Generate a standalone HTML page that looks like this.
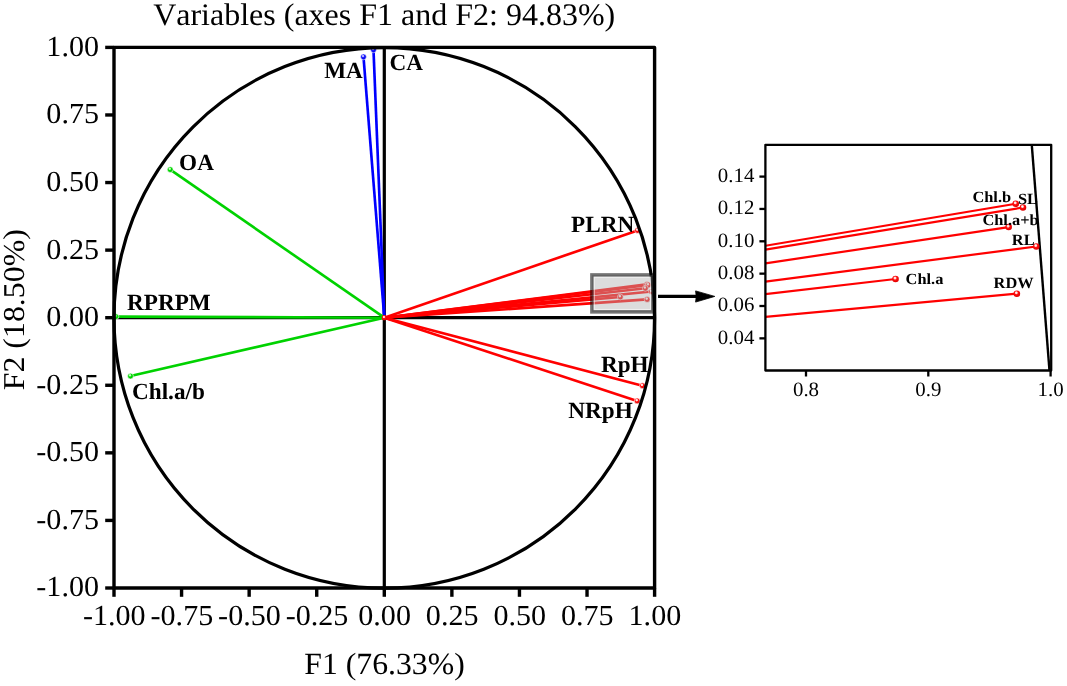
<!DOCTYPE html><html><head><meta charset="utf-8"><style>html,body{margin:0;padding:0;background:#fff;}svg{display:block;will-change:transform;}text{font-family:"Liberation Serif",serif;fill:#000;font-kerning:none;text-rendering:geometricPrecision;}</style></head><body>
<svg width="1067" height="686" viewBox="0 0 1067 686">
<defs><radialGradient id="gR" cx="0.42" cy="0.36" r="0.62"><stop offset="0" stop-color="#ffffff"/><stop offset="0.22" stop-color="#ffd8d8"/><stop offset="0.45" stop-color="#ff1010"/><stop offset="1" stop-color="#e00000"/></radialGradient><radialGradient id="gG" cx="0.42" cy="0.36" r="0.62"><stop offset="0" stop-color="#e8ffe8"/><stop offset="0.22" stop-color="#a8f8a8"/><stop offset="0.45" stop-color="#00dc00"/><stop offset="1" stop-color="#00c000"/></radialGradient><radialGradient id="gB" cx="0.42" cy="0.36" r="0.62"><stop offset="0" stop-color="#e8e8ff"/><stop offset="0.22" stop-color="#a8a8ff"/><stop offset="0.45" stop-color="#1010ff"/><stop offset="1" stop-color="#0000e0"/></radialGradient><clipPath id="ic"><rect x="765.4" y="144.8" width="285.8" height="225.7"/></clipPath></defs>
<text transform="translate(384.20,25.00) scale(1,0.98)" font-size="32.0" text-anchor="middle">Variables (axes F1 and F2: 94.83%)</text>
<line x1="114.00" y1="588.00" x2="114.00" y2="596.80" stroke="#000" stroke-width="3.4"/>
<line x1="105.20" y1="588.00" x2="114.00" y2="588.00" stroke="#000" stroke-width="3.4"/>
<text transform="translate(114.30,625.10) scale(1,0.965)" font-size="30.1" text-anchor="middle">-1.00</text>
<text transform="translate(99.00,596.40) scale(1,0.965)" font-size="30.1" text-anchor="end">-1.00</text>
<line x1="181.57" y1="588.00" x2="181.57" y2="596.80" stroke="#000" stroke-width="3.4"/>
<line x1="105.20" y1="520.42" x2="114.00" y2="520.42" stroke="#000" stroke-width="3.4"/>
<text transform="translate(181.88,625.10) scale(1,0.965)" font-size="30.1" text-anchor="middle">-0.75</text>
<text transform="translate(99.00,528.82) scale(1,0.965)" font-size="30.1" text-anchor="end">-0.75</text>
<line x1="249.15" y1="588.00" x2="249.15" y2="596.80" stroke="#000" stroke-width="3.4"/>
<line x1="105.20" y1="452.85" x2="114.00" y2="452.85" stroke="#000" stroke-width="3.4"/>
<text transform="translate(249.45,625.10) scale(1,0.965)" font-size="30.1" text-anchor="middle">-0.50</text>
<text transform="translate(99.00,461.25) scale(1,0.965)" font-size="30.1" text-anchor="end">-0.50</text>
<line x1="316.73" y1="588.00" x2="316.73" y2="596.80" stroke="#000" stroke-width="3.4"/>
<line x1="105.20" y1="385.27" x2="114.00" y2="385.27" stroke="#000" stroke-width="3.4"/>
<text transform="translate(317.03,625.10) scale(1,0.965)" font-size="30.1" text-anchor="middle">-0.25</text>
<text transform="translate(99.00,393.67) scale(1,0.965)" font-size="30.1" text-anchor="end">-0.25</text>
<line x1="384.30" y1="588.00" x2="384.30" y2="596.80" stroke="#000" stroke-width="3.4"/>
<line x1="105.20" y1="317.70" x2="114.00" y2="317.70" stroke="#000" stroke-width="3.4"/>
<text transform="translate(384.60,625.10) scale(1,0.965)" font-size="30.1" text-anchor="middle">0.00</text>
<text transform="translate(99.00,326.10) scale(1,0.965)" font-size="30.1" text-anchor="end">0.00</text>
<line x1="451.88" y1="588.00" x2="451.88" y2="596.80" stroke="#000" stroke-width="3.4"/>
<line x1="105.20" y1="250.12" x2="114.00" y2="250.12" stroke="#000" stroke-width="3.4"/>
<text transform="translate(452.18,625.10) scale(1,0.965)" font-size="30.1" text-anchor="middle">0.25</text>
<text transform="translate(99.00,258.52) scale(1,0.965)" font-size="30.1" text-anchor="end">0.25</text>
<line x1="519.45" y1="588.00" x2="519.45" y2="596.80" stroke="#000" stroke-width="3.4"/>
<line x1="105.20" y1="182.55" x2="114.00" y2="182.55" stroke="#000" stroke-width="3.4"/>
<text transform="translate(519.75,625.10) scale(1,0.965)" font-size="30.1" text-anchor="middle">0.50</text>
<text transform="translate(99.00,190.95) scale(1,0.965)" font-size="30.1" text-anchor="end">0.50</text>
<line x1="587.03" y1="588.00" x2="587.03" y2="596.80" stroke="#000" stroke-width="3.4"/>
<line x1="105.20" y1="114.97" x2="114.00" y2="114.97" stroke="#000" stroke-width="3.4"/>
<text transform="translate(587.33,625.10) scale(1,0.965)" font-size="30.1" text-anchor="middle">0.75</text>
<text transform="translate(99.00,123.37) scale(1,0.965)" font-size="30.1" text-anchor="end">0.75</text>
<line x1="654.60" y1="588.00" x2="654.60" y2="596.80" stroke="#000" stroke-width="3.4"/>
<line x1="105.20" y1="47.40" x2="114.00" y2="47.40" stroke="#000" stroke-width="3.4"/>
<text transform="translate(654.90,625.10) scale(1,0.965)" font-size="30.1" text-anchor="middle">1.00</text>
<text transform="translate(99.00,55.80) scale(1,0.965)" font-size="30.1" text-anchor="end">1.00</text>
<text transform="translate(384.50,674.30) scale(1,0.97)" font-size="31.75" text-anchor="middle">F1 (76.33%)</text>
<text transform="translate(24.30,309.70) rotate(-90) scale(1,0.95)" font-size="31.9" text-anchor="middle">F2 (18.50%)</text>
<line x1="114.00" y1="317.70" x2="654.60" y2="317.70" stroke="#000" stroke-width="3.3"/>
<line x1="384.30" y1="47.40" x2="384.30" y2="588.00" stroke="#000" stroke-width="3.2"/>
<line x1="384.30" y1="317.70" x2="373.49" y2="49.83" stroke="#0000ff" stroke-width="2.65"/>
<line x1="384.30" y1="317.70" x2="363.49" y2="56.86" stroke="#0000ff" stroke-width="2.65"/>
<line x1="384.30" y1="317.70" x2="170.22" y2="169.58" stroke="#00d200" stroke-width="2.65"/>
<line x1="384.30" y1="317.70" x2="115.89" y2="316.62" stroke="#00d200" stroke-width="2.65"/>
<line x1="384.30" y1="317.70" x2="130.49" y2="376.08" stroke="#00d200" stroke-width="2.65"/>
<line x1="384.30" y1="317.70" x2="637.57" y2="230.39" stroke="#ff0000" stroke-width="2.65"/>
<line x1="384.30" y1="317.70" x2="642.44" y2="385.68" stroke="#ff0000" stroke-width="2.65"/>
<line x1="384.30" y1="317.70" x2="637.17" y2="400.95" stroke="#ff0000" stroke-width="2.65"/>
<line x1="384.30" y1="317.70" x2="646.90" y2="284.40" stroke="#ff0000" stroke-width="2.65"/>
<line x1="384.30" y1="317.70" x2="648.49" y2="285.02" stroke="#ff0000" stroke-width="2.65"/>
<line x1="384.30" y1="317.70" x2="645.33" y2="288.29" stroke="#ff0000" stroke-width="2.65"/>
<line x1="384.30" y1="317.70" x2="651.44" y2="291.53" stroke="#ff0000" stroke-width="2.65"/>
<line x1="384.30" y1="317.70" x2="620.33" y2="296.97" stroke="#ff0000" stroke-width="2.65"/>
<line x1="384.30" y1="317.70" x2="647.14" y2="299.43" stroke="#ff0000" stroke-width="2.65"/>
<circle cx="373.49" cy="49.83" r="2.9" fill="url(#gB)" stroke="#fff" stroke-width="0.6"/>
<circle cx="363.49" cy="56.86" r="2.9" fill="url(#gB)" stroke="#fff" stroke-width="0.6"/>
<circle cx="170.22" cy="169.58" r="2.9" fill="url(#gG)" stroke="#fff" stroke-width="0.6"/>
<circle cx="115.89" cy="316.62" r="2.9" fill="url(#gG)" stroke="#fff" stroke-width="0.6"/>
<circle cx="130.49" cy="376.08" r="2.9" fill="url(#gG)" stroke="#fff" stroke-width="0.6"/>
<circle cx="637.57" cy="230.39" r="2.9" fill="url(#gR)" stroke="#fff" stroke-width="0.6"/>
<circle cx="642.44" cy="385.68" r="2.9" fill="url(#gR)" stroke="#fff" stroke-width="0.6"/>
<circle cx="637.17" cy="400.95" r="2.9" fill="url(#gR)" stroke="#fff" stroke-width="0.6"/>
<circle cx="646.90" cy="284.40" r="2.9" fill="url(#gR)" stroke="#fff" stroke-width="0.6"/>
<circle cx="648.49" cy="285.02" r="2.9" fill="url(#gR)" stroke="#fff" stroke-width="0.6"/>
<circle cx="645.33" cy="288.29" r="2.9" fill="url(#gR)" stroke="#fff" stroke-width="0.6"/>
<circle cx="651.44" cy="291.53" r="2.9" fill="url(#gR)" stroke="#fff" stroke-width="0.6"/>
<circle cx="620.33" cy="296.97" r="2.9" fill="url(#gR)" stroke="#fff" stroke-width="0.6"/>
<circle cx="647.14" cy="299.43" r="2.9" fill="url(#gR)" stroke="#fff" stroke-width="0.6"/>
<circle cx="384.30" cy="317.70" r="2.6" fill="url(#gR)"/>
<text transform="translate(324.20,78.30) scale(1,1.0)" font-size="23.2" font-weight="bold">MA</text>
<text transform="translate(389.60,70.20) scale(1,1.0)" font-size="23.2" font-weight="bold">CA</text>
<text transform="translate(179.10,169.70) scale(1,1.0)" font-size="23.2" font-weight="bold">OA</text>
<text transform="translate(127.00,309.90) scale(1,1.0)" font-size="23.2" font-weight="bold">RPRPM</text>
<text transform="translate(132.00,399.30) scale(1,1.0)" font-size="23.2" font-weight="bold">Chl.a/b</text>
<text transform="translate(571.10,231.80) scale(1,1.0)" font-size="23.2" font-weight="bold">PLRN</text>
<text transform="translate(600.90,371.80) scale(1,1.0)" font-size="23.2" font-weight="bold">RpH</text>
<text transform="translate(568.30,418.30) scale(1,1.0)" font-size="23.2" font-weight="bold">NRpH</text>
<circle cx="384.30" cy="317.90" r="270.30" fill="none" stroke="#000" stroke-width="3.2"/>
<rect x="114.00" y="47.40" width="540.60" height="540.60" fill="none" stroke="#000" stroke-width="3.4" stroke-linejoin="round"/>
<rect x="591.9" y="274.9" width="61" height="37" fill="rgba(178,178,178,0.45)" stroke="rgba(0,0,0,0.54)" stroke-width="3.5"/>
<rect x="594.3" y="277.3" width="56.2" height="32.2" fill="none" stroke="rgba(255,255,255,0.55)" stroke-width="1.1"/>
<line x1="658" y1="296.4" x2="697" y2="296.4" stroke="#000" stroke-width="3.2"/>
<path d="M714.8,296.4 L695.6,290.9 Q696.8,296.4 695.6,302.1 Z" fill="#000" stroke="#000" stroke-width="0.8" stroke-linejoin="round"/>
<g clip-path="url(#ic)">
<line x1="765.40" y1="245.76" x2="1015.74" y2="203.77" stroke="#ff0000" stroke-width="2.2"/>
<line x1="765.40" y1="249.63" x2="1022.96" y2="207.49" stroke="#ff0000" stroke-width="2.2"/>
<line x1="765.40" y1="263.31" x2="1008.65" y2="227.07" stroke="#ff0000" stroke-width="2.2"/>
<line x1="765.40" y1="281.57" x2="1036.29" y2="246.48" stroke="#ff0000" stroke-width="2.2"/>
<line x1="765.40" y1="294.10" x2="895.52" y2="278.99" stroke="#ff0000" stroke-width="2.2"/>
<line x1="765.40" y1="316.83" x2="1016.85" y2="293.71" stroke="#ff0000" stroke-width="2.2"/>
<line x1="1031.4" y1="140" x2="1049.6" y2="372" stroke="#000" stroke-width="2.4"/>
</g>
<circle cx="1015.74" cy="203.77" r="3.3" fill="url(#gR)"/>
<circle cx="1022.96" cy="207.49" r="3.3" fill="url(#gR)"/>
<circle cx="1008.65" cy="227.07" r="3.3" fill="url(#gR)"/>
<circle cx="1036.29" cy="246.48" r="3.3" fill="url(#gR)"/>
<circle cx="895.52" cy="278.99" r="3.3" fill="url(#gR)"/>
<circle cx="1016.85" cy="293.71" r="3.3" fill="url(#gR)"/>
<text transform="translate(972.40,201.90) scale(1,0.95)" font-size="16.4" font-weight="bold">Chl.b</text>
<text transform="translate(1018.00,204.10) scale(1,0.95)" font-size="16.4" font-weight="bold">SL</text>
<text transform="translate(982.40,225.00) scale(1,0.95)" font-size="16.4" font-weight="bold">Chl.a+b</text>
<text transform="translate(1011.80,244.90) scale(1,0.95)" font-size="16.4" font-weight="bold">RL</text>
<text transform="translate(993.60,288.20) scale(1,0.95)" font-size="16.4" font-weight="bold">RDW</text>
<text transform="translate(905.60,283.70) scale(1,0.95)" font-size="16.4" font-weight="bold">Chl.a</text>
<rect x="765.4" y="144.8" width="285.8" height="225.7" fill="none" stroke="#000" stroke-width="2.3" stroke-linejoin="round"/>
<line x1="759.4" y1="338.35" x2="765.4" y2="338.35" stroke="#000" stroke-width="2.3"/>
<text transform="translate(754.40,343.55) scale(1,0.98)" font-size="20.9" text-anchor="end">0.04</text>
<line x1="759.4" y1="306.00" x2="765.4" y2="306.00" stroke="#000" stroke-width="2.3"/>
<text transform="translate(754.40,311.20) scale(1,0.98)" font-size="20.9" text-anchor="end">0.06</text>
<line x1="759.4" y1="273.65" x2="765.4" y2="273.65" stroke="#000" stroke-width="2.3"/>
<text transform="translate(754.40,278.85) scale(1,0.98)" font-size="20.9" text-anchor="end">0.08</text>
<line x1="759.4" y1="241.30" x2="765.4" y2="241.30" stroke="#000" stroke-width="2.3"/>
<text transform="translate(754.40,246.50) scale(1,0.98)" font-size="20.9" text-anchor="end">0.10</text>
<line x1="759.4" y1="208.95" x2="765.4" y2="208.95" stroke="#000" stroke-width="2.3"/>
<text transform="translate(754.40,214.15) scale(1,0.98)" font-size="20.9" text-anchor="end">0.12</text>
<line x1="759.4" y1="176.60" x2="765.4" y2="176.60" stroke="#000" stroke-width="2.3"/>
<text transform="translate(754.40,181.80) scale(1,0.98)" font-size="20.9" text-anchor="end">0.14</text>
<line x1="806.00" y1="370.5" x2="806.00" y2="376.5" stroke="#000" stroke-width="2.3"/>
<text transform="translate(806.00,396.20) scale(1,0.98)" font-size="20.9" text-anchor="middle">0.8</text>
<line x1="928.30" y1="370.5" x2="928.30" y2="376.5" stroke="#000" stroke-width="2.3"/>
<text transform="translate(928.30,396.20) scale(1,0.98)" font-size="20.9" text-anchor="middle">0.9</text>
<line x1="1050.60" y1="370.5" x2="1050.60" y2="376.5" stroke="#000" stroke-width="2.3"/>
<text transform="translate(1050.60,396.20) scale(1,0.98)" font-size="20.9" text-anchor="middle">1.0</text>
</svg></body></html>
